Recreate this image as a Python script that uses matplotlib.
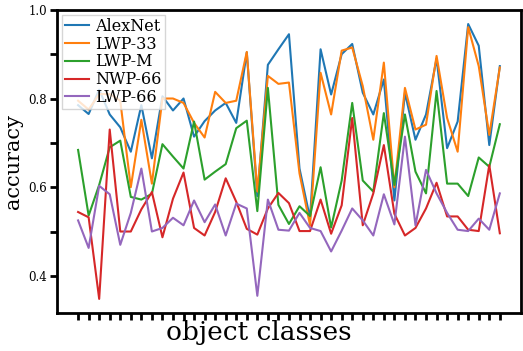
import numpy as np
import matplotlib
matplotlib.use("Agg")
import matplotlib.pyplot as plt
from matplotlib.ticker import MultipleLocator, NullFormatter

plt.rcParams['font.family'] = 'serif'
plt.rcParams['font.serif'] = ['DejaVu Serif']

# accuracy per object class (41 classes)
alexnet = [0.785, 0.765, 0.82, 0.764, 0.735, 0.68, 0.785, 0.665, 0.805, 0.773,
           0.80, 0.714, 0.749, 0.773, 0.79, 0.745, 0.904, 0.58, 0.876, 0.911,
           0.945, 0.642, 0.53, 0.911, 0.809, 0.90, 0.923, 0.813, 0.764, 0.843,
           0.57, 0.813, 0.707, 0.764, 0.89, 0.688, 0.748, 0.968, 0.919, 0.695,
           0.873]
lwp33 = [0.795, 0.775, 0.81, 0.81, 0.795, 0.60, 0.752, 0.608, 0.80, 0.80,
         0.79, 0.745, 0.712, 0.815, 0.79, 0.795, 0.905, 0.59, 0.851, 0.833,
         0.836, 0.631, 0.514, 0.858, 0.764, 0.908, 0.915, 0.828, 0.707, 0.881,
         0.60, 0.824, 0.73, 0.741, 0.896, 0.756, 0.68, 0.961, 0.873, 0.718,
         0.87]
lwpm = [0.684, 0.536, 0.605, 0.69, 0.705, 0.578, 0.572, 0.585, 0.697, 0.669,
        0.642, 0.748, 0.617, 0.635, 0.652, 0.733, 0.75, 0.546, 0.824, 0.56,
        0.517, 0.557, 0.535, 0.645, 0.509, 0.615, 0.79, 0.615, 0.59, 0.767,
        0.605, 0.764, 0.635, 0.586, 0.817, 0.608, 0.608, 0.58, 0.667, 0.646,
        0.742]
nwp66 = [0.544, 0.532, 0.348, 0.73, 0.50, 0.50, 0.55, 0.589, 0.487, 0.574,
         0.633, 0.508, 0.491, 0.544, 0.62, 0.567, 0.506, 0.493, 0.552, 0.587,
         0.564, 0.501, 0.501, 0.572, 0.495, 0.559, 0.756, 0.514, 0.586, 0.695,
         0.54, 0.491, 0.508, 0.552, 0.61, 0.534, 0.534, 0.504, 0.501, 0.65,
         0.496]
lwp66 = [0.525, 0.463, 0.603, 0.584, 0.47, 0.542, 0.642, 0.50, 0.508, 0.531,
         0.514, 0.570, 0.521, 0.561, 0.491, 0.563, 0.552, 0.355, 0.572, 0.504,
         0.502, 0.542, 0.508, 0.501, 0.455, 0.502, 0.552, 0.525, 0.491, 0.584,
         0.516, 0.714, 0.514, 0.639, 0.586, 0.542, 0.504, 0.501, 0.529, 0.504,
         0.586]

series = [("AlexNet", alexnet), ("LWP-33", lwp33), ("LWP-M", lwpm),
          ("NWP-66", nwp66), ("LWP-66", lwp66)]

fig = plt.figure(figsize=(5.23, 3.51), dpi=100)
ax = fig.add_axes([0.109, 0.108, 0.887, 0.864])

x = np.arange(len(alexnet))
for name, vals in series:
    ax.plot(x, vals, label=name, linewidth=1.5)

ax.set_ylim(0.316, 1.0)
ax.set_xticks(x)
ax.xaxis.set_major_formatter(NullFormatter())
ax.yaxis.set_major_locator(MultipleLocator(0.2))
ax.yaxis.set_minor_locator(MultipleLocator(0.1))

for s in ax.spines.values():
    s.set_linewidth(2)
ax.tick_params(axis='x', which='major', length=5, width=2)
ax.tick_params(axis='y', which='major', length=5, width=2, labelsize=8.5, pad=2)
ax.tick_params(axis='y', which='minor', length=5, width=2)

ax.set_ylabel("accuracy", fontsize=15, labelpad=4)
ax.set_xlabel("object classes", fontsize=19)
ax.xaxis.set_label_coords(0.435, -0.022, transform=ax.transAxes)
ax.xaxis.label.set_va('top')

ax.legend(loc='upper left', fontsize=11.5, labelspacing=0.05, handlelength=1.5,
          handletextpad=0.4, borderpad=0.2, borderaxespad=0.3, fancybox=False)

fig.savefig("out.png", dpi=100)
